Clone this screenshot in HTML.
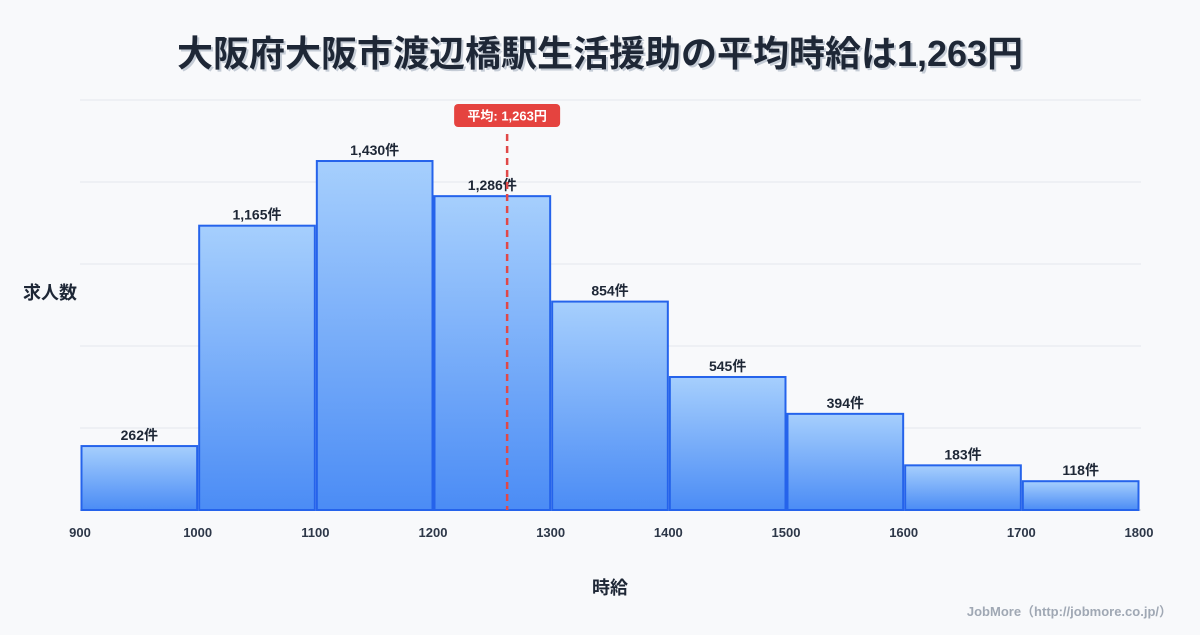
<!DOCTYPE html>
<html><head><meta charset="utf-8"><style>
body{margin:0;background:#f8f9fb;width:1200px;height:630px;overflow:hidden;font-family:"Liberation Sans","Noto Sans CJK JP",sans-serif}
</style></head><body>
<svg id="c" width="1200" height="630" xmlns="http://www.w3.org/2000/svg" style="font-family:'Liberation Sans','Noto Sans CJK JP',sans-serif">
<defs><linearGradient id="g" x1="0" y1="0" x2="0" y2="1"><stop offset="0" stop-color="#a6cffd"/><stop offset="1" stop-color="#4b8cf5"/></linearGradient></defs>
<text x="602" y="68" text-anchor="middle" font-size="36" font-weight="bold" fill="#c5ccd6">大阪府大阪市渡辺橋駅生活援助の平均時給は1,263円</text>
<text x="600" y="66" text-anchor="middle" font-size="36" font-weight="bold" fill="#1e2736">大阪府大阪市渡辺橋駅生活援助の平均時給は1,263円</text>
<text x="50" y="299" text-anchor="middle" font-size="18" font-weight="bold" fill="#1e2736">求人数</text>
<text x="610" y="594" text-anchor="middle" font-size="18" font-weight="bold" fill="#1e2736">時給</text>
<text x="1172" y="616" text-anchor="end" font-size="13" font-weight="bold" fill="#a0a8b4">JobMore（http://jobmore.co.jp/）</text>
<g id="grid"></g><g id="bars"></g><g id="xt"></g><g id="mean"></g>
</svg>
<script>
const binStarts=[900,1000,1100,1200,1300,1400,1500,1600,1700];
const counts=[262,1165,1430,1286,854,545,394,183,118];
const xTicks=[900,1000,1100,1200,1300,1400,1500,1600,1700,1800];
const meanValue=1263;
const NS="http://www.w3.org/2000/svg";
const x0=80,x1=1139,yb=510,yt=100,xmin=900,xmax=1800,ymax=1680;
const X=v=>x0+(v-xmin)/(xmax-xmin)*(x1-x0);
const Y=v=>yb-v/ymax*(yb-yt);
function mk(t,a,p){const e=document.createElementNS(NS,t);for(const k in a)e.setAttribute(k,a[k]);p.appendChild(e);return e;}
const grid=document.getElementById('grid');
for(let i=0;i<=5;i++){const y=Y(ymax*i/5);const l=mk('line',{x1:x0,x2:x1+2,y1:y,y2:y,stroke:i==0?'#d0d5dc':'#e3e7ec','stroke-width':1},grid);

}
const bars=document.getElementById('bars');
binStarts.forEach((s,i)=>{const xa=X(s)+1.5,xb=X(s+100)-0.5,y=Y(counts[i]);
const r=mk('rect',{x:xa,y:y,width:xb-xa,height:yb-y,fill:'url(#g)',stroke:'#2563eb','stroke-width':2},bars);


const t=mk('text',{x:(xa+xb)/2,y:y-6,'text-anchor':'middle','font-size':14,'font-weight':'bold',fill:'#1e2736'},bars);
t.textContent=counts[i].toLocaleString('en-US')+'件';

});
const xt=document.getElementById('xt');
xTicks.forEach(v=>{const t=mk('text',{x:X(v),y:537,'text-anchor':'middle','font-size':13,'font-weight':'bold',fill:'#2d3748'},xt);
t.textContent=v;

});
const mg=document.getElementById('mean');const mx=X(meanValue);
const ml=mk('line',{x1:mx,x2:mx,y1:134,y2:yb,stroke:'#e04848','stroke-width':2.5,'stroke-dasharray':'7,5'},mg);


const mb=mk('rect',{x:mx-53,y:104,width:106,height:23,rx:4,fill:'#e5433f'},mg);


const mt=mk('text',{x:mx,y:120.5,'text-anchor':'middle','font-size':13,'font-weight':'bold',fill:'#fff'},mg);
mt.textContent='平均: '+meanValue.toLocaleString('en-US')+'円';


</script>
</body></html>
